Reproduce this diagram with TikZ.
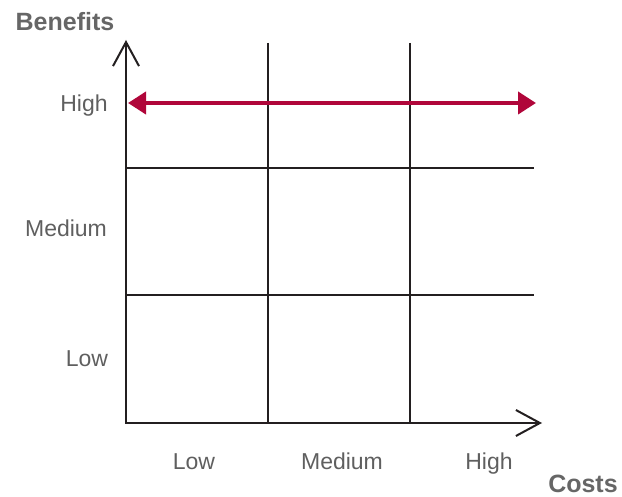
\documentclass[tikz,border=0pt]{standalone}
\usepackage{fontspec}
\setmainfont{Liberation Sans}
\usetikzlibrary{arrows.meta}
\definecolor{gridline}{HTML}{231F20}
\definecolor{labelgray}{HTML}{5F5F5F}
\definecolor{titlegray}{HTML}{666666}
\definecolor{accentred}{HTML}{B0063A}
\tikzset{
  gridl/.style={draw=gridline, line width=2pt},
  axisl/.style={draw=gridline, line width=2pt, -{Straight Barb[length=24pt,width=26pt,line width=2pt]}},
  lbl/.style={text=labelgray, font=\fontsize{23}{26}\selectfont, inner sep=0pt, anchor=base},
  ttl/.style={text=titlegray, font=\bfseries\fontsize{25}{28}\selectfont, inner sep=0pt, anchor=base},
  redarrow/.style={draw=accentred, line width=4pt, {Triangle[length=18pt,width=22pt]}-{Triangle[length=18pt,width=22pt]}}
}
\begin{document}
\begin{tikzpicture}[x=1pt,y=-1pt]
\useasboundingbox (0,0) rectangle (622,497);
% coordinates
\coordinate (o) at (126,423);
\coordinate (ytip) at (126,40);
\coordinate (xtip) at (542,423);
\coordinate (v1t) at (268,43);
\coordinate (v1b) at (268,423);
\coordinate (v2t) at (410,43);
\coordinate (v2b) at (410,423);
\coordinate (h1l) at (126,168);
\coordinate (h1r) at (534,168);
\coordinate (h2l) at (126,295);
\coordinate (h2r) at (534,295);
\coordinate (ra) at (128,103);
\coordinate (rb) at (536,103);
% grid
\draw[gridl] (v1t) -- (v1b);
\draw[gridl] (v2t) -- (v2b);
\draw[gridl] (h1l) -- (h1r);
\draw[gridl] (h2l) -- (h2r);
% axes
\draw[axisl] ([yshift=1pt]o) -- (ytip);
\draw[axisl] ([xshift=-1pt]o) -- (xtip);
% red arrow
\draw[redarrow] (ra) -- (rb);
% labels
\node[ttl] (benefits) at (65,31) {Benefits};
\node[ttl] (costs) at (583,493) {Costs};
\node[lbl] (yhigh) at (84,112) {High};
\node[lbl] (ymed) at (66,237) {Medium};
\node[lbl] (ylow) at (87,367) {Low};
\node[lbl] (xlow) at (194,469) {Low};
\node[lbl] (xmed) at (342,469) {Medium};
\node[lbl] (xhigh) at (489,469) {High};
\end{tikzpicture}
\end{document}
